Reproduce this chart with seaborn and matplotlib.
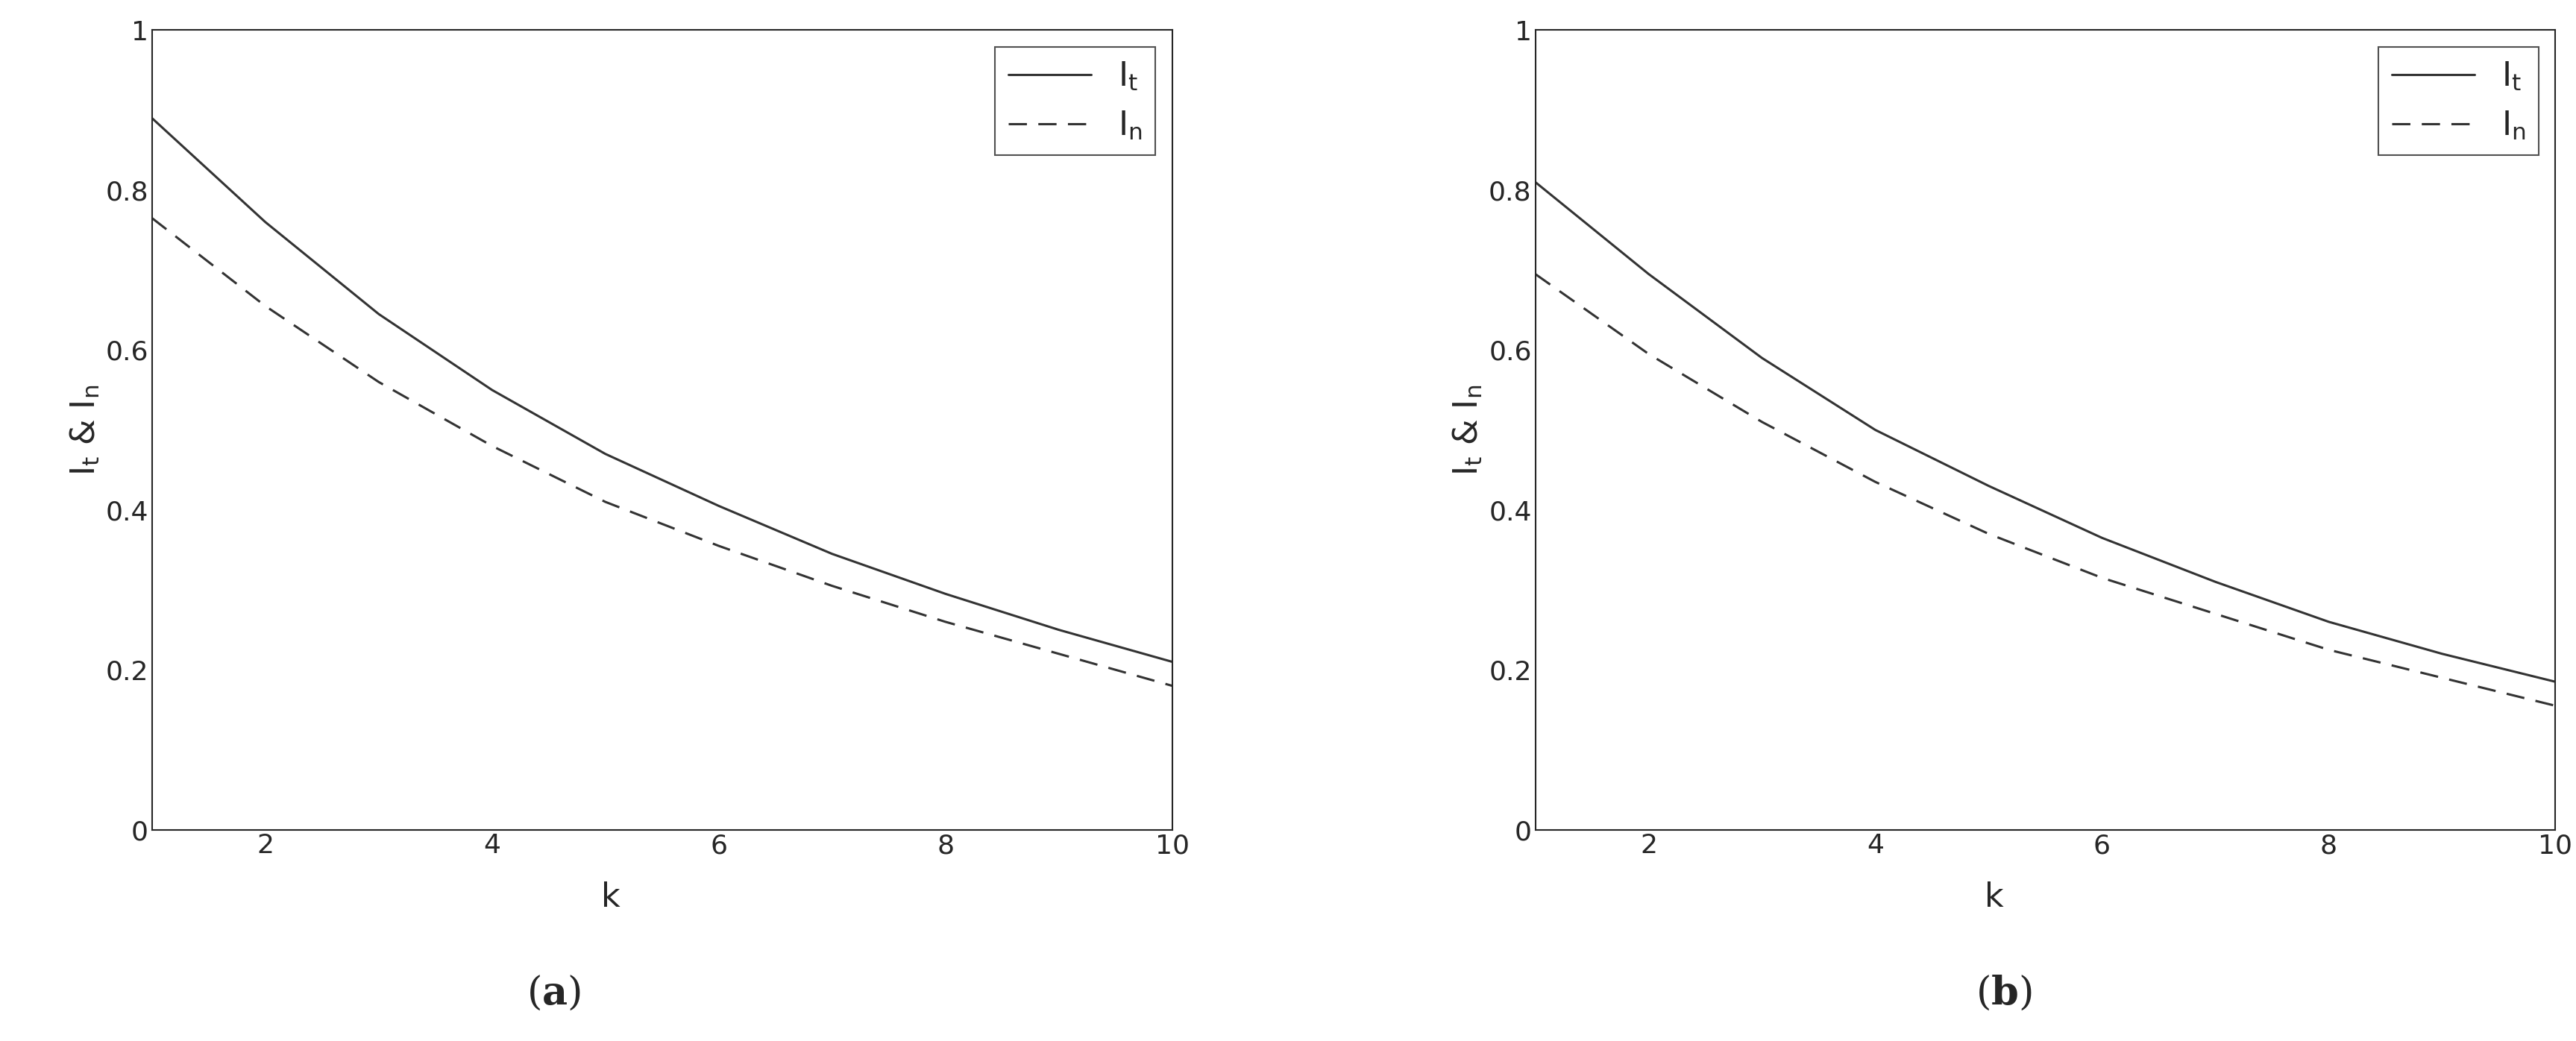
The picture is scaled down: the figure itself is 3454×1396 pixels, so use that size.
import matplotlib
matplotlib.use("Agg")
import matplotlib.pyplot as plt
import seaborn as sns
import pandas as pd

k = [1, 2, 3, 4, 5, 6, 7, 8, 9, 10]
a_It = [0.89, 0.76, 0.645, 0.55, 0.47, 0.405, 0.345, 0.295, 0.25, 0.21]
a_In = [0.765, 0.655, 0.56, 0.48, 0.41, 0.355, 0.305, 0.26, 0.22, 0.18]
b_It = [0.81, 0.695, 0.59, 0.50, 0.43, 0.365, 0.31, 0.26, 0.22, 0.185]
b_In = [0.695, 0.595, 0.51, 0.435, 0.37, 0.315, 0.27, 0.225, 0.19, 0.155]
captions = ["a", "b"]

sns.set_style("white")
plt.rcParams['font.family'] = ['DejaVu Sans']
plt.rcParams['mathtext.fontset'] = 'dejavuserif'
fig = plt.figure(figsize=(34.54, 13.96), dpi=100)
lefts = [0.059, 0.596]
caption_x = [0.215, 0.778]
for i, (It, In) in enumerate([(a_It, a_In), (b_It, b_In)]):
    ax = fig.add_axes([lefts[i], 0.203, 0.396, 0.768])
    df = pd.DataFrame({"k": k, "It": It, "In": In})
    sns.lineplot(data=df, x="k", y="It", ax=ax, color="#333333", lw=2.2, label=r"I$_\mathregular{t}$")
    sns.lineplot(data=df, x="k", y="In", ax=ax, color="#333333", lw=2.2, ls=(0, (8, 5)), label=r"I$_\mathregular{n}$")
    ax.set_xlim(1, 10)
    ax.set_ylim(0, 1)
    ax.set_xticks([2, 4, 6, 8, 10])
    ax.set_yticks([0, 0.2, 0.4, 0.6, 0.8, 1])
    ax.set_yticklabels(["0", "0.2", "0.4", "0.6", "0.8", "1"])
    ax.tick_params(direction="in", labelsize=26, length=8, colors="#262626")
    for s in ax.spines.values():
        s.set_color("#262626"); s.set_linewidth(1.5)
    ax.set_xlabel("k", fontsize=32)
    ax.xaxis.set_label_coords(0.45, -0.065)
    ax.set_ylabel(r"I$_\mathregular{t}$ & I$_\mathregular{n}$", fontsize=32)
    leg = ax.legend(loc="upper right", fontsize=32, frameon=True, fancybox=False,
                    edgecolor="#262626", handlelength=2.5)
    leg.get_frame().set_linewidth(1.5)
    fig.text(caption_x[i], 0.035, r"$(\mathbf{%s})$" % captions[i], fontsize=38, ha="center")

fig.savefig("out.png", dpi=100)
